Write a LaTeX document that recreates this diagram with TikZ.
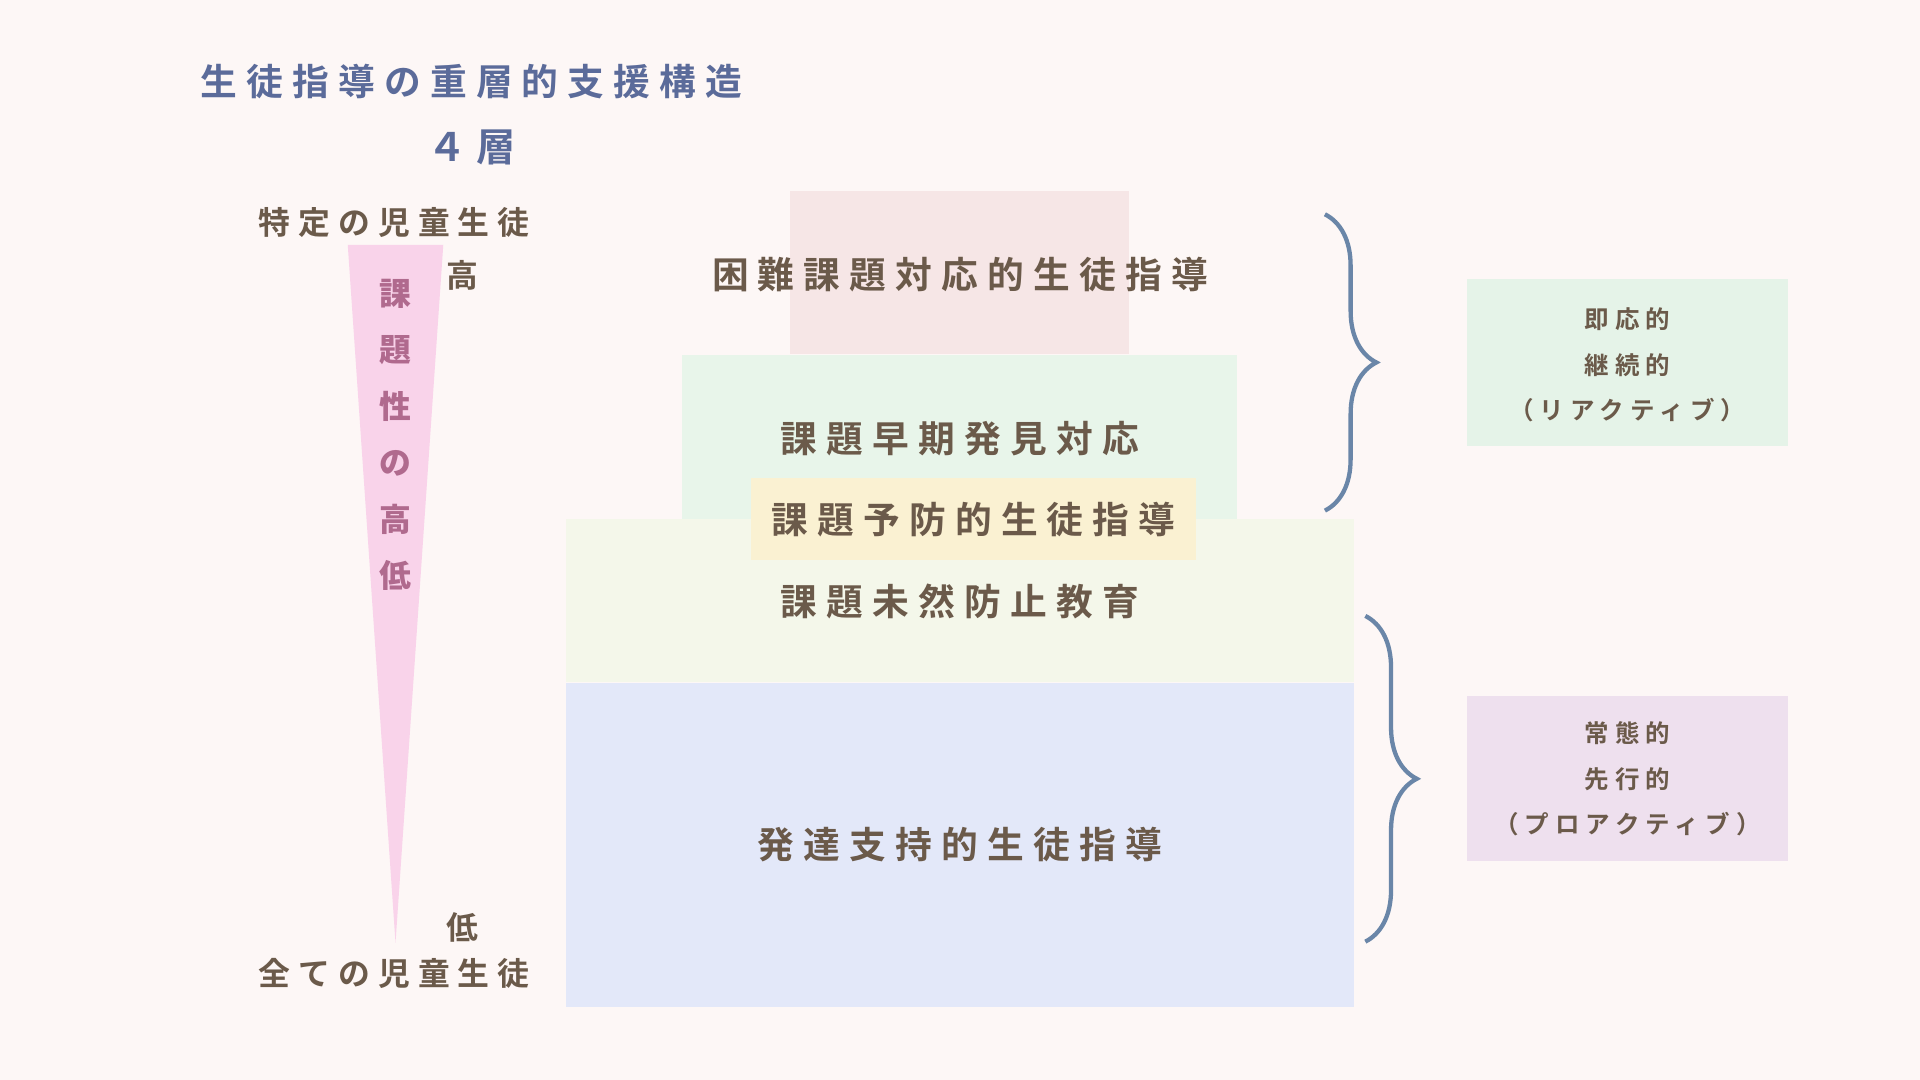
\documentclass[tikz,border=0pt]{standalone}
\usepackage{fontspec}
\setmainfont{Noto Sans CJK JP}
\newfontfamily\jpsp[LetterSpace=25,BoldFont={Noto Sans CJK JP Bold}]{Noto Sans CJK JP}
\usetikzlibrary{decorations.pathreplacing}
\definecolor{bg}{HTML}{FDF7F6}
\definecolor{ttl}{HTML}{5B6B9A}
\definecolor{brn}{HTML}{6B5A4A}
\definecolor{brc}{HTML}{6A86A8}
\definecolor{vt}{HTML}{B06A8E}
\definecolor{tri}{HTML}{F9D3EA}
\tikzset{
 lay/.style={text=brn,font=\jpsp\bfseries\fontsize{30}{36}\selectfont},
 side/.style={text=brn,font=\jpsp\bfseries\fontsize{26}{30}\selectfont},
 tag/.style={text=brn,align=center,font=\jpsp\bfseries\fontsize{20}{37}\selectfont},
 brc/.style={draw=brc,line width=3.5pt,decorate,decoration={brace,amplitude=42pt}},
}
\begin{document}
\begin{tikzpicture}[x=1pt,y=-1pt]
\fill[bg] (0,0) rectangle (1568,882);
\node[text=ttl,font=\jpsp\bfseries\fontsize{30}{36}\selectfont] (t1) at (385,67) {生徒指導の重層的支援構造};
\node[text=ttl,font=\jpsp\bfseries\fontsize{32}{36}\selectfont] (t2) at (385,120) {４層};
\node[side] (sp) at (322,182) {特定の児童生徒};
\fill[tri] (284,200) -- (362,200) -- (323,770) -- cycle;
\foreach \c/\y in {課/240,題/286,性/332,の/378,高/424,低/470}
  \node[text=vt,font=\bfseries\fontsize{26}{30}\selectfont] at (323,\y) {\c};
\node[side] (hi) at (378,225) {高};
\node[side] (lo) at (378,757) {低};
\node[side] (al) at (322,795) {全ての児童生徒};
\fill[fill={rgb,255:red,246;green,230;blue,230}] (645,156) rectangle (922,289);
\fill[fill={rgb,255:red,232;green,245;blue,234}] (557,290) rectangle (1010,424);
\fill[fill={rgb,255:red,244;green,247;blue,234}] (462,424) rectangle (1106,557);
\fill[fill={rgb,255:red,227;green,232;blue,249}] (462,558) rectangle (1106,822);
\fill[fill={rgb,255:red,250;green,241;blue,210}] (613,390) rectangle (977,457);
\node[lay] (a) at (784,224) {困難課題対応的生徒指導};
\node[lay] (b) at (784,358) {課題早期発見対応};
\node[lay] (c) at (795,424) {課題予防的生徒指導};
\node[lay] (d) at (784,491) {課題未然防止教育};
\node[lay] (e) at (784,690) {発達支持的生徒指導};
\coordinate (b1) at (1082,175); \coordinate (b2) at (1082,417);
\coordinate (b3) at (1115,503); \coordinate (b4) at (1115,769);
\draw[brc] (b1) -- (b2);
\draw[brc] (b3) -- (b4);
\fill[fill={rgb,255:red,229;green,243;blue,232}] (1198,228) rectangle (1460,364);
\fill[fill={rgb,255:red,238;green,224;blue,238}] (1198,568) rectangle (1460,703);
\node[tag] (r) at (1329,298) {即応的\\継続的\\（リアクティブ）};
\node[tag] (p) at (1329,636) {常態的\\先行的\\（プロアクティブ）};
\end{tikzpicture}
\end{document}
